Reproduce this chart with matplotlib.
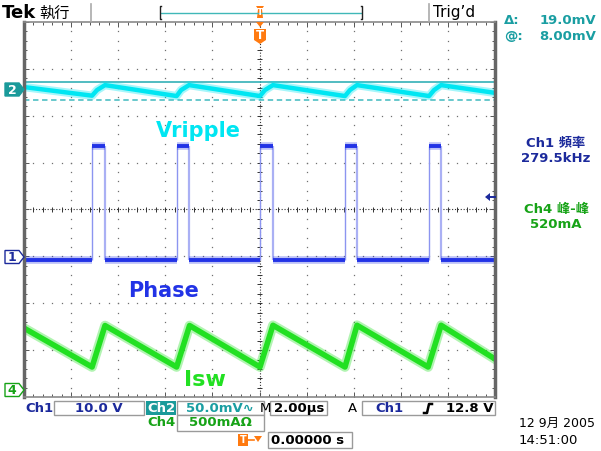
"""
Tek scope capture: buck converter phase node, output ripple and switch current
"""

import matplotlib.pyplot as plt
import numpy as np
from matplotlib.patches import Polygon, Rectangle

plt.rcParams['font.family'] = ['DejaVu Sans', 'Noto Sans CJK TC']

#---------------------------------------------------------------------------------------------------
# Scope settings and waveform values
#---------------------------------------------------------------------------------------------------

t_per_div = 2.0                       # us/div
ch1_scale, ch1_pos = 10.0, -1.01      # V/div, ground marker (div)
ch2_scale, ch2_pos = 50.0, 2.56       # mV/div
ch4_scale, ch4_pos = 0.5, -3.83       # A/div

# Ch1 phase node, pulse edges (us) and levels (V)
phase_rise = [-7.10, -3.52, 0.02, 3.62, 7.18]
phase_fall = [-6.56, -2.98, 0.56, 4.15, 7.72]
phase_low = -0.6
phase_high = 23.7

# Ch2 output ripple (us, mV)
ripple_t = [-10.0, -7.11, -6.90, -6.56, -3.52, -3.33, -2.99, 0.02, 0.23, 0.57,
            3.63, 3.84, 4.14, 7.20, 7.41, 7.71, 10.0]
ripple_mv = [2.6, -6.6, -0.6, 4.7, -7.0, -0.6, 4.7, -7.0, -0.6, 4.7,
             -7.0, -0.6, 4.7, -7.0, -0.6, 4.7, -3.6]

# Ch4 switch current (us, A)
isw_t = [-10.0, -7.11, -6.56, -3.52, -2.97, 0.02, 0.57, 3.63, 4.14, 7.16, 7.71, 10.0]
isw_a = [0.65, 0.235, 0.677, 0.235, 0.677, 0.235, 0.68, 0.235, 0.68, 0.235, 0.68, 0.32]

# Cursors on Ch2 (mV)
cursor_at = 8.0
cursor_delta = 19.0

# Colours
c_ch1 = '#2233e6'
c_ch1_txt = '#1c2a9c'
c_ch2 = '#00e6f2'
c_ch2_txt = '#1a9ea2'
c_ch4 = '#22e022'
c_ch4_txt = '#17a317'
c_trig = '#ff7a10'
c_grid = '#707070'

#---------------------------------------------------------------------------------------------------
# Main Program
#---------------------------------------------------------------------------------------------------

W, H = 601, 451
fig = plt.figure(figsize=(W/100, H/100), dpi=100)
fig.patch.set_facecolor('white')

x0, x1, y0, y1 = 24, 495, 22, 397
ax = fig.add_axes([x0/W, 1-y1/H, (x1-x0)/W, (y1-y0)/H])
ax.set_xlim(-5*t_per_div, 5*t_per_div)
ax.set_ylim(-4, 4)
ax.set_xticks([])
ax.set_yticks([])
for s in ax.spines.values():
    s.set_color('#8a8a8a')
    s.set_linewidth(1.2)
ax.spines['left'].set_linewidth(2.5)
ax.spines['right'].set_linewidth(2.5)
ax.spines['left'].set_color('#666666')
ax.spines['right'].set_color('#666666')

# Graticule dots
xs_fine = np.arange(-10, 10.01, 0.4)
ys_fine = np.arange(-4, 4.01, 0.2)
for gx in [-8, -6, -4, -2, 2, 4, 6, 8]:
    ax.plot(np.full_like(ys_fine, gx), ys_fine, ls='none', marker='s', ms=0.9, mew=0,
            color=c_grid)
for gy in [-3, -2, -1, 1, 2, 3]:
    ax.plot(xs_fine, np.full_like(xs_fine, gy), ls='none', marker='s', ms=0.9, mew=0,
            color=c_grid)

# Centre crosshair with minor ticks
ax.plot([-10, 10], [0, 0], color='#333333', lw=0.8, ls=(0, (1, 1.6)))
ax.plot([0, 0], [-4, 4], color='#333333', lw=0.8, ls=(0, (1, 1.6)))
ax.vlines(xs_fine, -0.05, 0.05, color='#333333', lw=0.7)
ax.hlines(ys_fine, -0.1, 0.1, color='#333333', lw=0.7)

# Edge rulers
for xv in xs_fine:
    ln = 0.1 if abs(xv/2 - round(xv/2)) < 1e-6 else 0.06
    ax.vlines(xv, 4-ln, 4, color='#555555', lw=0.7)
    ax.vlines(xv, -4, -4+ln, color='#555555', lw=0.7)
for yv in ys_fine:
    ln = 0.2 if abs(yv - round(yv)) < 1e-6 else 0.12
    ax.hlines(yv, -10, -10+ln, color='#555555', lw=0.7)
    ax.hlines(yv, 10-ln, 10, color='#555555', lw=0.7)

# Ch2 cursors
ax.axhline(cursor_at/ch2_scale + ch2_pos, color='#22aab0', lw=1.1)
ax.axhline((cursor_at-cursor_delta)/ch2_scale + ch2_pos, color='#5cc4c8', lw=1.3,
           ls=(0, (3, 2)))

# Ch2 ripple
ry = np.array(ripple_mv)/ch2_scale + ch2_pos
ax.plot(ripple_t, ry, color=c_ch2, lw=6.0, alpha=0.35, solid_joinstyle='round')
ax.plot(ripple_t, ry, color=c_ch2, lw=3.2, solid_joinstyle='round')

# Ch1 phase node
pt = [-10.0]
pv = [phase_low]
for r, f in zip(phase_rise, phase_fall):
    pt += [r, r, f, f]
    pv += [phase_low, phase_high, phase_high, phase_low]
pt.append(10.0)
pv.append(phase_low)
pt = np.array(pt)
py = np.array(pv)/ch1_scale + ch1_pos
ax.vlines(phase_rise, phase_low/ch1_scale + ch1_pos, phase_high/ch1_scale + ch1_pos,
          color='#8c95f0', lw=1.0)
ax.vlines(phase_fall, phase_low/ch1_scale + ch1_pos, phase_high/ch1_scale + ch1_pos,
          color='#aab0f4', lw=1.6)
for i in range(0, len(pt)-1, 2):
    ax.plot(pt[i:i+2], py[i:i+2], color=c_ch1, lw=5.5, alpha=0.3, solid_capstyle='butt')
    ax.plot(pt[i:i+2], py[i:i+2], color=c_ch1, lw=2.8, solid_capstyle='butt')

# Ch4 switch current
iy = np.array(isw_a)/ch4_scale + ch4_pos
ax.plot(isw_t, iy, color=c_ch4, lw=7, alpha=0.35, solid_joinstyle='round')
ax.plot(isw_t, iy, color=c_ch4, lw=4, solid_joinstyle='round')

#---------------------------------------------------------------------------------------------------
# Screen annotations (pixel coordinates)
#---------------------------------------------------------------------------------------------------

ui = fig.add_axes([0, 0, 1, 1], facecolor='none')
ui.set_xlim(0, W)
ui.set_ylim(H, 0)
ui.axis('off')

# Header
ui.text(2, 13, 'Tek', fontsize=13, fontweight='bold', va='center', ha='left')
ui.text(39, 13, '執行', fontsize=11, va='center', ha='left')
ui.plot([91, 91], [4, 21], color='#aaaaaa', lw=1.2)
ui.plot([429, 429], [4, 21], color='#aaaaaa', lw=1.2)
ui.plot([161, 361], [12.5, 12.5], color='#40b8b8', lw=1.0)
ui.plot([161, 160, 160, 161], [6, 6, 19, 19], color='#222222', lw=1.0)
ui.plot([361, 362, 362, 361], [6, 6, 19, 19], color='#222222', lw=1.0)
ui.text(433, 12, 'Trig’d', fontsize=11, va='center', ha='left')

# Trigger position markers
ui.add_patch(Polygon([[256, 6], [264, 6], [262, 9], [263, 18], [257, 18], [258, 9]],
                     closed=True, color=c_trig, lw=0))
ui.text(260, 12.5, 'T', color='white', fontsize=6.5, fontweight='bold', ha='center',
        va='center')
ui.add_patch(Polygon([[256, 22], [264, 22], [260, 27]], closed=True, color=c_trig, lw=0))
ui.add_patch(Polygon([[254, 29], [266, 29], [266, 40], [260, 44], [254, 40]], closed=True,
                     color=c_trig, lw=0))
ui.text(260, 35.5, 'T', color='white', fontsize=8.5, fontweight='bold', ha='center',
        va='center')

# Channel ground markers
def ground_marker(yc, label, col, filled):
    pts = [[5, yc-6.5], [19, yc-6.5], [24, yc], [19, yc+6.5], [5, yc+6.5]]
    ui.add_patch(Polygon(pts, closed=True, facecolor=col if filled else 'white',
                         edgecolor=col, lw=1.0))
    ui.text(12, yc+0.5, label, color='white' if filled else col, fontsize=9,
            fontweight='bold', ha='center', va='center')

ground_marker(89.5, '2', '#1a9a9a', True)
ground_marker(257, '1', c_ch1_txt, False)
ground_marker(390, '4', c_ch4_txt, False)

# Ch1 trigger level arrow
ui.add_patch(Polygon([[485, 197], [490, 193], [490, 201]], closed=True, color=c_ch1_txt, lw=0))
ui.plot([488, 495], [197, 197], color=c_ch1_txt, lw=1.4)

# Waveform labels
ui.text(198, 131, 'Vripple', color=c_ch2, fontsize=15, fontweight='bold', ha='center',
        va='center')
ui.text(164, 291, 'Phase', color=c_ch1, fontsize=15, fontweight='bold', ha='center',
        va='center')
ui.text(205, 380, 'Isw', color=c_ch4, fontsize=16, fontweight='bold', ha='center',
        va='center')

# Cursor readout
ui.text(504, 21, 'Δ:', color=c_ch2_txt, fontsize=9.5, fontweight='bold', va='center',
        ha='left')
ui.text(596, 21, f'{cursor_delta:.1f}mV', color=c_ch2_txt, fontsize=9.5, fontweight='bold',
        va='center', ha='right')
ui.text(504, 36, '@:', color=c_ch2_txt, fontsize=9.5, fontweight='bold', va='center',
        ha='left')
ui.text(596, 36, f'{cursor_at:.2f}mV', color=c_ch2_txt, fontsize=9.5, fontweight='bold',
        va='center', ha='right')

# Measurements
ui.text(556, 144, 'Ch1 頻率', color=c_ch1_txt, fontsize=9.5, fontweight='bold', ha='center',
        va='center')
ui.text(556, 158, '279.5kHz', color=c_ch1_txt, fontsize=9.5, fontweight='bold', ha='center',
        va='center')
ui.text(556, 210, 'Ch4 峰-峰', color=c_ch4_txt, fontsize=9.5, fontweight='bold', ha='center',
        va='center')
ui.text(556, 224, '520mA', color=c_ch4_txt, fontsize=9.5, fontweight='bold', ha='center',
        va='center')

# Bottom status boxes
def box(xa, xb, ya, yb):
    ui.add_patch(Rectangle((xa, ya), xb-xa, yb-ya, facecolor='white', edgecolor='#9a9a9a',
                           lw=1.0))

box(54, 144, 401, 415)
box(177, 264, 401, 415)
box(270, 327, 401, 415)
box(362, 495, 401, 415)
box(177, 264, 415, 431)
box(268, 352, 432, 448)

bw = 'bold'
ui.add_patch(Rectangle((146, 401), 30, 14, facecolor='#1a9a9a', edgecolor='none'))
ui.text(39, 408.5, 'Ch1', color=c_ch1_txt, fontsize=9.5, fontweight=bw, ha='center',
        va='center')
ui.text(99, 408.5, '10.0 V', color=c_ch1_txt, fontsize=9.5, fontweight=bw, ha='center',
        va='center')
ui.text(161, 408.5, 'Ch2', color='white', fontsize=9.5, fontweight=bw, ha='center',
        va='center')
ui.text(220, 408.5, '50.0mV∿', color=c_ch2_txt, fontsize=9.5, fontweight=bw, ha='center',
        va='center')
ui.text(265.5, 408.5, 'M', color='black', fontsize=9.5, ha='center', va='center')
ui.text(299, 408.5, '2.00µs', color='black', fontsize=9.5, fontweight=bw, ha='center',
        va='center')
ui.text(352, 408.5, 'A', color='black', fontsize=9.5, ha='center', va='center')
ui.text(389, 408.5, 'Ch1', color=c_ch1_txt, fontsize=9.5, fontweight=bw, ha='center',
        va='center')
ui.plot([424, 427, 429, 432], [413, 413, 404, 404], color='black', lw=1.8)
ui.text(493, 408.5, '12.8 V', color='black', fontsize=9.5, fontweight=bw, ha='right',
        va='center')
ui.text(161, 423, 'Ch4', color=c_ch4_txt, fontsize=9.5, fontweight=bw, ha='center',
        va='center')
ui.text(220, 423, '500mAΩ', color=c_ch4_txt, fontsize=9.5, fontweight=bw, ha='center',
        va='center')

ui.add_patch(Rectangle((238, 434), 10, 12, color=c_trig, lw=0))
ui.text(243, 440, 'T', color='white', fontsize=7, fontweight='bold', ha='center',
        va='center')
ui.plot([248, 254], [440, 440], color=c_trig, lw=1.2)
ui.add_patch(Polygon([[254, 436], [262, 436], [258, 442]], closed=True, color=c_trig, lw=0))
ui.text(271, 440, '0.00000 s', color='black', fontsize=9.5, fontweight=bw, ha='left',
        va='center')

ui.text(519, 423, '12 9月 2005', color='black', fontsize=9, ha='left', va='center')
ui.text(519, 440, '14:51:00', color='black', fontsize=9.5, ha='left', va='center')

plt.savefig('out.png', dpi=100)
